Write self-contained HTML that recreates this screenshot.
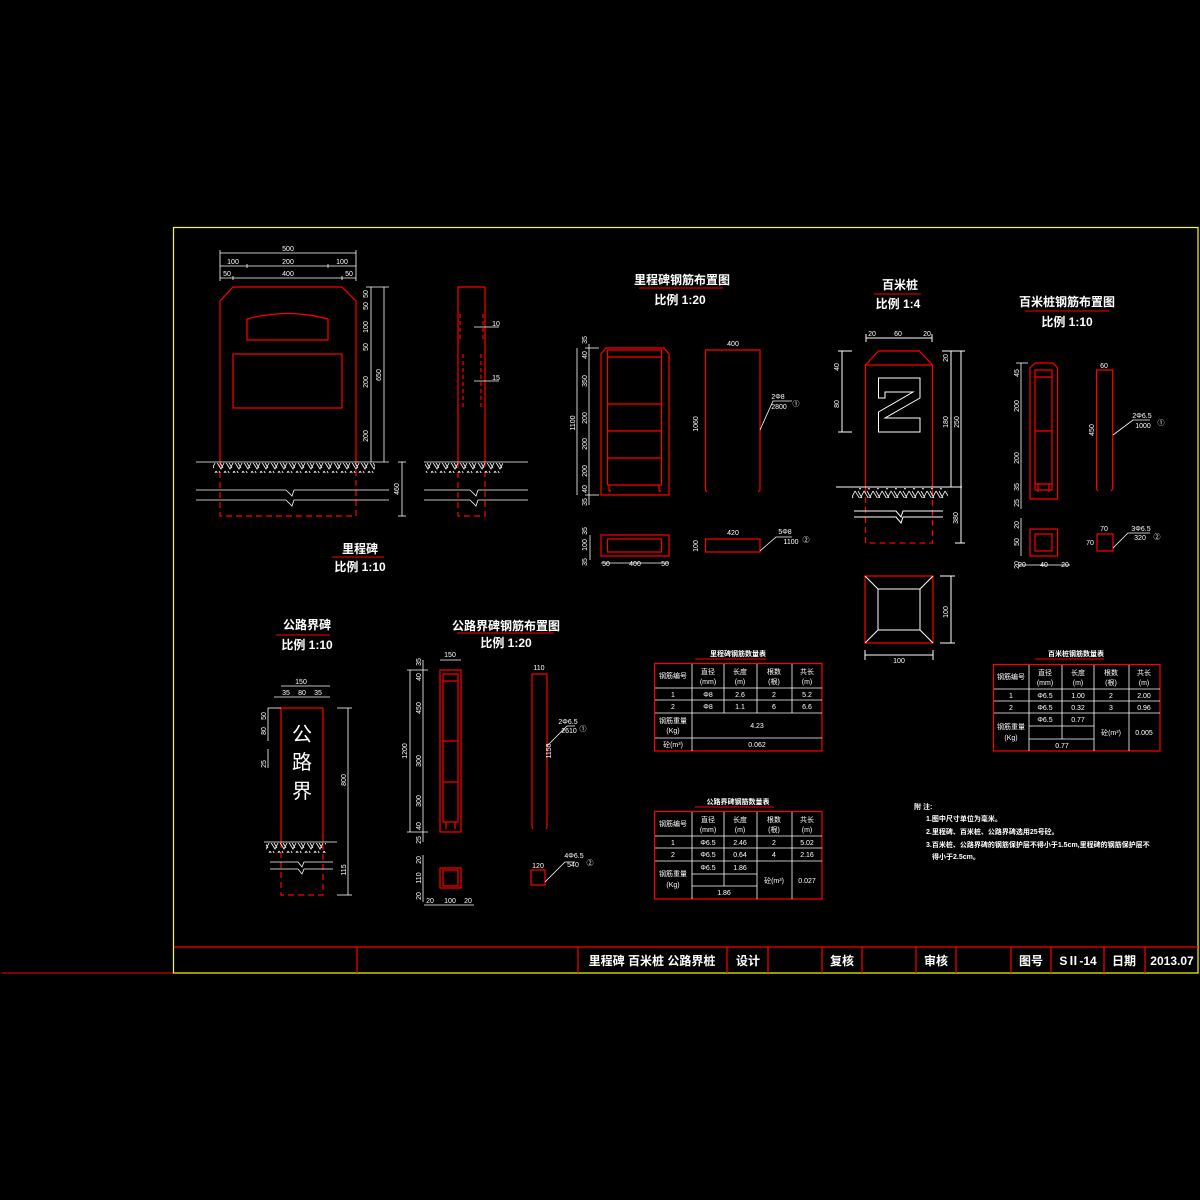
<!DOCTYPE html>
<html><head><meta charset="utf-8"><style>
html,body{margin:0;padding:0;background:#000;}
svg{display:block;}
text{font-family:"Liberation Sans","Noto Sans CJK SC",sans-serif;fill:#fff;}
.t{font-size:12px;font-weight:bold;}
.d{font-size:7px;}
.s{font-size:7px;text-anchor:middle;}
</style></head><body>
<svg width="1200" height="1200" viewBox="0 0 1200 1200" xmlns="http://www.w3.org/2000/svg">
<defs>
<pattern id="h" width="9" height="10" patternUnits="userSpaceOnUse">
<path d="M0 1 L5 9 L9 1 M3 1 L7 8" stroke="#fff" stroke-width="0.8" fill="none"/>
</pattern>
</defs>
<rect width="1200" height="1200" fill="#000"/>
<!-- frame -->
<line x1="2" y1="973" x2="173" y2="973" stroke="#f00" stroke-width="1"/>
<rect x="173.5" y="227.5" width="1024.5" height="745.5" fill="none" stroke="#ff0" stroke-width="1.2"/>
<line x1="174" y1="947" x2="1198" y2="947" stroke="#f00" stroke-width="1.2"/>
<g stroke="#f00" stroke-width="1.2">
<line x1="357" y1="947" x2="357" y2="973"/><line x1="578" y1="947" x2="578" y2="973"/>
<line x1="727" y1="947" x2="727" y2="973"/><line x1="768" y1="947" x2="768" y2="973"/>
<line x1="822" y1="947" x2="822" y2="973"/><line x1="862" y1="947" x2="862" y2="973"/>
<line x1="916" y1="947" x2="916" y2="973"/><line x1="956" y1="947" x2="956" y2="973"/>
<line x1="1011" y1="947" x2="1011" y2="973"/><line x1="1051" y1="947" x2="1051" y2="973"/>
<line x1="1104" y1="947" x2="1104" y2="973"/><line x1="1145" y1="947" x2="1145" y2="973"/>
</g>
<g class="t" font-size="12">
<text x="652" y="965" text-anchor="middle">里程碑 百米桩 公路界桩</text>
<text x="748" y="965" text-anchor="middle">设计</text>
<text x="842" y="965" text-anchor="middle">复核</text>
<text x="936" y="965" text-anchor="middle">审核</text>
<text x="1031" y="965" text-anchor="middle">图号</text>
<text x="1078" y="965" text-anchor="middle">SⅡ-14</text>
<text x="1124" y="965" text-anchor="middle">日期</text>
<text x="1172" y="965" text-anchor="middle">2013.07</text>
</g>

<!-- ===== 里程碑 ===== -->
<g stroke="#f00" stroke-width="1.2" fill="none">
<path d="M220 462 L220 301 L233 287 L342 287 L356 301 L356 462"/>
<path d="M220 462 L220 516 L356 516 L356 462" stroke-dasharray="6,4"/>
<path d="M247 340 L247 319 Q288 308 328 319 L328 340 Z"/>
<rect x="233" y="354" width="109" height="54"/>
<path d="M458 462 L458 287 L485 287 L485 462"/>
<path d="M458 462 L458 516 L485 516 L485 462" stroke-dasharray="6,4"/>
<path d="M460 314 L460 340 M483 314 L483 340 M463 354 L463 408 M481 354 L481 408" stroke-dasharray="4,3"/>
</g>
<g stroke="#fff" stroke-width="0.8" fill="none">
<line x1="220" y1="253" x2="356" y2="253"/><line x1="220" y1="266" x2="356" y2="266"/><line x1="220" y1="278" x2="356" y2="278"/>
<line x1="220" y1="250" x2="220" y2="281"/><line x1="356" y1="250" x2="356" y2="281"/>
<line x1="247" y1="264" x2="247" y2="268"/><line x1="328" y1="264" x2="328" y2="268"/><line x1="233" y1="276" x2="233" y2="280"/><line x1="342" y1="276" x2="342" y2="280"/>
<line x1="371" y1="287" x2="371" y2="462"/><line x1="384" y1="287" x2="384" y2="462"/>
<line x1="366" y1="287" x2="389" y2="287"/>
<line x1="196" y1="462" x2="389" y2="462"/>
<line x1="424" y1="462" x2="528" y2="462"/>
<path d="M196 490 L286 490 L292 496 L294 490 L389 490 M196 500 L286 500 L292 506 L294 500 L389 500"/>
<path d="M424 490 L470 490 L476 496 L478 490 L528 490 M424 500 L470 500 L476 506 L478 500 L528 500"/>
<line x1="402" y1="462" x2="402" y2="516"/><line x1="398" y1="462" x2="406" y2="462"/><line x1="398" y1="516" x2="406" y2="516"/>
<line x1="474" y1="327" x2="499" y2="327"/><line x1="474" y1="381" x2="499" y2="381"/>
</g>
<rect x="213" y="463" width="162" height="10" fill="url(#h)"/>
<rect x="425" y="463" width="78" height="10" fill="url(#h)"/>
<g class="s">
<text x="288" y="251">500</text><text x="233" y="264">100</text><text x="288" y="264">200</text><text x="342" y="264">100</text>
<text x="227" y="276">50</text><text x="288" y="276">400</text><text x="349" y="276">50</text>
<text x="496" y="326">10</text><text x="496" y="380">15</text>
</g>
<g class="s">
<text transform="translate(368,294) rotate(-90)">50</text><text transform="translate(368,306) rotate(-90)">50</text>
<text transform="translate(368,327) rotate(-90)">100</text><text transform="translate(368,347) rotate(-90)">50</text>
<text transform="translate(368,382) rotate(-90)">200</text><text transform="translate(368,436) rotate(-90)">200</text>
<text transform="translate(381,375) rotate(-90)">650</text><text transform="translate(399,489) rotate(-90)">460</text>
</g>
<text class="t" x="360" y="553" text-anchor="middle">里程碑</text>
<line x1="332" y1="557" x2="384" y2="557" stroke="#f00" stroke-width="1"/>
<text class="t" x="360" y="571" text-anchor="middle">比例 1:10</text>

<!-- ===== 里程碑钢筋布置图 ===== -->
<text class="t" x="682" y="284" text-anchor="middle">里程碑钢筋布置图</text>
<line x1="639" y1="288" x2="723" y2="288" stroke="#f00" stroke-width="1"/>
<text class="t" x="680" y="304" text-anchor="middle">比例 1:20</text>
<g stroke="#f00" stroke-width="1.2" fill="none">
<path d="M601 495 L601 354 L606 348 L664 348 L669 354 L669 495 Z"/>
<rect x="607.5" y="350" width="54" height="135"/>
<line x1="607.5" y1="357" x2="661.5" y2="357"/><line x1="607.5" y1="404" x2="661.5" y2="404"/>
<line x1="607.5" y1="431" x2="661.5" y2="431"/><line x1="607.5" y1="458" x2="661.5" y2="458"/>
<path d="M609 485 L609 491 L611 491 M659 485 L659 491 L661 491"/>
<path d="M707 492 L705.5 490 L705.5 350 L760 350 L760 490 L758 492"/>
<rect x="601" y="535" width="68" height="21"/>
<rect x="607.5" y="539" width="54" height="13"/>
<rect x="705.5" y="539" width="54.5" height="13"/>
</g>
<g stroke="#fff" stroke-width="0.8" fill="none">
<line x1="589" y1="344" x2="589" y2="505"/><line x1="577" y1="348" x2="577" y2="495"/>
<line x1="585" y1="348" x2="599" y2="348"/><line x1="585" y1="495" x2="599" y2="495"/>
<path d="M760 430 L773 401 L792 401"/>
<path d="M760 551 L776 537 L792 537"/>
<line x1="601" y1="563" x2="669" y2="563"/><line x1="590" y1="535" x2="590" y2="560"/>
</g>
<g class="s">
<text x="733" y="346">400</text><text x="733" y="535">420</text>
<text x="778" y="399">2Φ8</text><text x="779" y="409">2800</text><text x="796" y="406">①</text>
<text x="785" y="534">5Φ8</text><text x="791" y="544">1100</text><text x="806" y="542">②</text>
<text x="606" y="566">50</text><text x="635" y="566">400</text><text x="665" y="566">50</text>
<text transform="translate(698,424) rotate(-90)">1060</text><text transform="translate(698,546) rotate(-90)">100</text>
<text transform="translate(575,423) rotate(-90)">1100</text>
<text transform="translate(587,340) rotate(-90)">35</text><text transform="translate(587,355) rotate(-90)">40</text>
<text transform="translate(587,381) rotate(-90)">350</text><text transform="translate(587,418) rotate(-90)">200</text>
<text transform="translate(587,444) rotate(-90)">200</text><text transform="translate(587,471) rotate(-90)">200</text>
<text transform="translate(587,489) rotate(-90)">40</text><text transform="translate(587,502) rotate(-90)">35</text>
<text transform="translate(587,531) rotate(-90)">35</text><text transform="translate(587,545) rotate(-90)">100</text>
<text transform="translate(587,562) rotate(-90)">35</text>
</g>

<!-- ===== 百米桩 ===== -->
<text class="t" x="900" y="289" text-anchor="middle">百米桩</text>
<line x1="874" y1="294" x2="921" y2="294" stroke="#f00" stroke-width="1"/>
<text class="t" x="898" y="308" text-anchor="middle">比例 1:4</text>
<g stroke="#f00" stroke-width="1.2" fill="none">
<path d="M865.5 487 L865.5 365 L878.5 351 L919.4 351 L932.4 365 L932.4 487"/>
<line x1="865.5" y1="365" x2="932.4" y2="365"/>
<path d="M865.5 487 L865.5 543 L932.4 543 L932.4 487" stroke-dasharray="6,4"/>
<rect x="865" y="576" width="68" height="67"/>
</g>
<g stroke="#fff" stroke-width="1" fill="none">
<path d="M878.5 378 L920 378 L920 398 L885 418 L920 418 L920 432 L878.5 432 L878.5 412 L913 392 L885 392 L885 398 L878.5 398 Z"/>
<rect x="878" y="589" width="42" height="41"/>
<path d="M865 576 L878 589 M933 576 L920 589 M865 643 L878 630 M933 643 L920 630"/>
<line x1="836" y1="487" x2="962" y2="487"/>
<path d="M854 511 L896 511 L901 517 L903 511 L943 511 M854 517 L896 517 L901 523 L903 517 L943 517"/>
<line x1="866" y1="338" x2="932" y2="338"/><line x1="866" y1="334" x2="866" y2="342"/><line x1="932" y1="334" x2="932" y2="342"/>
<line x1="842" y1="351" x2="842" y2="432"/><line x1="838" y1="351" x2="852" y2="351"/><line x1="838" y1="432" x2="852" y2="432"/>
<line x1="951" y1="351" x2="951" y2="487"/><line x1="961" y1="351" x2="961" y2="543"/>
<line x1="942" y1="351" x2="965" y2="351"/><line x1="955" y1="543" x2="965" y2="543"/>
<line x1="865" y1="655" x2="933" y2="655"/><line x1="865" y1="650" x2="865" y2="660"/><line x1="933" y1="650" x2="933" y2="660"/>
<line x1="951" y1="576" x2="951" y2="643"/><line x1="940" y1="576" x2="955" y2="576"/><line x1="940" y1="643" x2="955" y2="643"/>
</g>
<rect x="852" y="488" width="96" height="10" fill="url(#h)"/>
<g class="s">
<text x="872" y="336">20</text><text x="898" y="336">60</text><text x="927" y="336">20</text>
<text x="899" y="663">100</text>
<text transform="translate(839,367) rotate(-90)">40</text><text transform="translate(839,404) rotate(-90)">80</text>
<text transform="translate(948,422) rotate(-90)">180</text><text transform="translate(959,422) rotate(-90)">250</text>
<text transform="translate(958,518) rotate(-90)">380</text><text transform="translate(948,612) rotate(-90)">100</text>
<text transform="translate(948,358) rotate(-90)">20</text>
</g>

<!-- ===== 百米桩钢筋布置图 ===== -->
<text class="t" x="1067" y="306" text-anchor="middle">百米桩钢筋布置图</text>
<line x1="1025" y1="311" x2="1109" y2="311" stroke="#f00" stroke-width="1"/>
<text class="t" x="1067" y="326" text-anchor="middle">比例 1:10</text>
<g stroke="#f00" stroke-width="1.2" fill="none">
<path d="M1030 499 L1030 368 L1035 363 L1053 363 L1057.6 368 L1057.6 499 Z"/>
<rect x="1035" y="370" width="17" height="120"/>
<line x1="1035" y1="377" x2="1052" y2="377"/><line x1="1035" y1="431" x2="1052" y2="431"/><line x1="1035" y1="484" x2="1052" y2="484"/>
<path d="M1038 484 L1038 492 M1049 484 L1049 492"/>
<path d="M1098 491 L1096.6 489 L1096.6 370 L1112.7 370 L1112.7 489 L1111 491"/>
<rect x="1030" y="529" width="27.6" height="27"/>
<rect x="1035" y="534" width="17" height="17"/>
<rect x="1097" y="534" width="16" height="17"/>
</g>
<g stroke="#fff" stroke-width="0.8" fill="none">
<line x1="1021" y1="363" x2="1021" y2="509"/><line x1="1016" y1="363" x2="1028" y2="363"/>
<path d="M1113 435 L1133 420 L1150 420"/>
<path d="M1113 548 L1128 533 L1150 533"/>
<line x1="1018" y1="565" x2="1070" y2="565"/><line x1="1021" y1="518" x2="1021" y2="556"/>
</g>
<g class="s">
<text x="1104" y="368">60</text><text x="1104" y="531">70</text><text x="1090" y="545">70</text>
<text x="1142" y="418">2Φ6.5</text><text x="1143" y="428">1000</text><text x="1161" y="425">①</text>
<text x="1141" y="531">3Φ6.5</text><text x="1140" y="540">320</text><text x="1157" y="539">②</text>
<text x="1022" y="567">20</text><text x="1044" y="567">40</text><text x="1065" y="567">20</text>
<text transform="translate(1094,430) rotate(-90)">450</text>
<text transform="translate(1019,373) rotate(-90)">45</text><text transform="translate(1019,406) rotate(-90)">200</text>
<text transform="translate(1019,458) rotate(-90)">200</text><text transform="translate(1019,487) rotate(-90)">35</text>
<text transform="translate(1019,503) rotate(-90)">25</text><text transform="translate(1019,525) rotate(-90)">20</text>
<text transform="translate(1019,542) rotate(-90)">50</text><text transform="translate(1019,565) rotate(-90)">20</text>
</g>

<!-- ===== 公路界碑 ===== -->
<text class="t" x="307" y="629" text-anchor="middle">公路界碑</text>
<line x1="276" y1="635" x2="330" y2="635" stroke="#f00" stroke-width="1"/>
<text class="t" x="307" y="649" text-anchor="middle">比例 1:10</text>
<g stroke="#f00" stroke-width="1.2" fill="none">
<path d="M281 842 L281 708 L323 708 L323 842"/>
<path d="M281 842 L281 895 L323 895 L323 842" stroke-dasharray="6,4"/>
</g>
<g font-size="20" fill="#fff" text-anchor="middle">
<text x="302" y="741">公</text><text x="302" y="769">路</text><text x="302" y="798">界</text>
</g>
<g stroke="#fff" stroke-width="0.8" fill="none">
<line x1="264" y1="842" x2="337" y2="842"/>
<path d="M270 862 L298 862 L302 867 L304 862 L333 862 M270 869 L298 869 L302 874 L304 869 L333 869"/>
<line x1="348" y1="708" x2="348" y2="895"/><line x1="337" y1="708" x2="352" y2="708"/><line x1="337" y1="895" x2="352" y2="895"/>
<line x1="274" y1="697" x2="330" y2="697"/><line x1="281" y1="686" x2="330" y2="686"/>
<line x1="268" y1="708" x2="281" y2="708"/><line x1="268" y1="749" x2="268" y2="768"/><line x1="268" y1="708" x2="268" y2="741"/>
</g>
<rect x="266" y="843" width="60" height="10" fill="url(#h)"/>
<g class="s">
<text x="301" y="684">150</text><text x="286" y="695">35</text><text x="302" y="695">80</text><text x="318" y="695">35</text>
<text transform="translate(266,716) rotate(-90)">50</text><text transform="translate(266,731) rotate(-90)">80</text>
<text transform="translate(266,764) rotate(-90)">25</text>
<text transform="translate(346,780) rotate(-90)">800</text><text transform="translate(346,870) rotate(-90)">115</text>
</g>

<!-- ===== 公路界碑钢筋布置图 ===== -->
<text class="t" x="506" y="630" text-anchor="middle">公路界碑钢筋布置图</text>
<line x1="457" y1="633" x2="554" y2="633" stroke="#f00" stroke-width="1"/>
<text class="t" x="506" y="647" text-anchor="middle">比例 1:20</text>
<g stroke="#f00" stroke-width="1.2" fill="none">
<rect x="440" y="670" width="21" height="162"/>
<rect x="443" y="674" width="15" height="148"/>
<line x1="443" y1="681" x2="458" y2="681"/><line x1="443" y1="741" x2="458" y2="741"/><line x1="443" y1="782" x2="458" y2="782"/>
<path d="M446 822 L446 829 M455 822 L455 829"/>
<path d="M533 829 L532 827 L532 674 L547 674 L547 827 L546 829"/>
<rect x="440" y="868" width="21" height="20"/>
<rect x="443" y="870" width="15" height="16"/>
<rect x="531" y="870" width="14" height="15"/>
</g>
<g stroke="#fff" stroke-width="0.8" fill="none">
<line x1="410" y1="670" x2="410" y2="832"/><line x1="423" y1="660" x2="423" y2="842"/>
<line x1="407" y1="670" x2="428" y2="670"/><line x1="407" y1="832" x2="428" y2="832"/>
<line x1="440" y1="660" x2="461" y2="660"/>
<path d="M547 746 L567 726 L575 726"/>
<path d="M545 882 L565 862 L575 862"/>
<line x1="424" y1="905" x2="474" y2="905"/><line x1="423" y1="855" x2="423" y2="902"/>
</g>
<g class="s">
<text x="450" y="657">150</text><text x="539" y="670">110</text><text x="538" y="868">120</text>
<text x="568" y="724">2Φ6.5</text><text x="569" y="733">2610</text><text x="583" y="731">①</text>
<text x="574" y="858">4Φ6.5</text><text x="573" y="867">540</text><text x="590" y="865">②</text>
<text x="430" y="903">20</text><text x="450" y="903">100</text><text x="468" y="903">20</text>
<text transform="translate(551,751) rotate(-90)">1150</text>
<text transform="translate(407,751) rotate(-90)">1200</text>
<text transform="translate(421,662) rotate(-90)">35</text><text transform="translate(421,677) rotate(-90)">40</text>
<text transform="translate(421,708) rotate(-90)">450</text><text transform="translate(421,761) rotate(-90)">300</text>
<text transform="translate(421,801) rotate(-90)">300</text><text transform="translate(421,826) rotate(-90)">40</text>
<text transform="translate(421,840) rotate(-90)">25</text><text transform="translate(421,860) rotate(-90)">20</text>
<text transform="translate(421,878) rotate(-90)">110</text><text transform="translate(421,896) rotate(-90)">20</text>
</g>

<!-- ===== Tables ===== -->
<g font-size="7" font-weight="bold" text-anchor="middle">
<text x="738" y="656">里程碑钢筋数量表</text>
</g>
<line x1="695" y1="659" x2="766" y2="659" stroke="#f00" stroke-width="1"/>
<rect x="654.5" y="663.5" width="167.5" height="87.5" fill="none" stroke="#f00" stroke-width="1.2"/>
<g stroke="#fff" stroke-width="0.8">
<line x1="655" y1="688" x2="822" y2="688"/><line x1="655" y1="700" x2="822" y2="700"/>
<line x1="655" y1="713" x2="822" y2="713"/><line x1="655" y1="738" x2="822" y2="738"/>
<line x1="692" y1="664" x2="692" y2="751"/><line x1="724" y1="664" x2="724" y2="713"/>
<line x1="757" y1="664" x2="757" y2="713"/><line x1="792" y1="664" x2="792" y2="713"/>
</g>
<g class="s">
<text x="673" y="678">钢筋编号</text><text x="708" y="674">直径</text><text x="708" y="684">(mm)</text>
<text x="740" y="674">长度</text><text x="740" y="684">(m)</text><text x="774" y="674">根数</text><text x="774" y="684">(根)</text>
<text x="807" y="674">共长</text><text x="807" y="684">(m)</text>
<text x="673" y="697">1</text><text x="708" y="697">Φ8</text><text x="740" y="697">2.6</text><text x="774" y="697">2</text><text x="807" y="697">5.2</text>
<text x="673" y="709">2</text><text x="708" y="709">Φ8</text><text x="740" y="709">1.1</text><text x="774" y="709">6</text><text x="807" y="709">6.6</text>
<text x="673" y="723">钢筋重量</text><text x="673" y="733">(Kg)</text><text x="757" y="728">4.23</text>
<text x="673" y="747">砼(m³)</text><text x="757" y="747">0.062</text>
</g>

<g font-size="7" font-weight="bold" text-anchor="middle"><text x="738" y="804">公路界碑钢筋数量表</text></g>
<line x1="695" y1="807" x2="774" y2="807" stroke="#f00" stroke-width="1"/>
<rect x="654.5" y="811.5" width="167.5" height="87.5" fill="none" stroke="#f00" stroke-width="1.2"/>
<g stroke="#fff" stroke-width="0.8">
<line x1="655" y1="836" x2="822" y2="836"/><line x1="655" y1="848" x2="822" y2="848"/>
<line x1="655" y1="861" x2="822" y2="861"/><line x1="692" y1="874" x2="757" y2="874"/><line x1="692" y1="886" x2="757" y2="886"/>
<line x1="692" y1="812" x2="692" y2="899"/><line x1="724" y1="812" x2="724" y2="886"/>
<line x1="757" y1="812" x2="757" y2="899"/><line x1="792" y1="812" x2="792" y2="899"/>
</g>
<g class="s">
<text x="673" y="826">钢筋编号</text><text x="708" y="822">直径</text><text x="708" y="832">(mm)</text>
<text x="740" y="822">长度</text><text x="740" y="832">(m)</text><text x="774" y="822">根数</text><text x="774" y="832">(根)</text>
<text x="807" y="822">共长</text><text x="807" y="832">(m)</text>
<text x="673" y="845">1</text><text x="708" y="845">Φ6.5</text><text x="740" y="845">2.46</text><text x="774" y="845">2</text><text x="807" y="845">5.02</text>
<text x="673" y="857">2</text><text x="708" y="857">Φ6.5</text><text x="740" y="857">0.64</text><text x="774" y="857">4</text><text x="807" y="857">2.16</text>
<text x="673" y="876">钢筋重量</text><text x="673" y="887">(Kg)</text>
<text x="708" y="870">Φ6.5</text><text x="740" y="870">1.86</text><text x="724" y="895">1.86</text>
<text x="774" y="883">砼(m³)</text><text x="807" y="883">0.027</text>
</g>

<g font-size="7" font-weight="bold" text-anchor="middle"><text x="1076" y="656">百米桩钢筋数量表</text></g>
<line x1="1035" y1="659" x2="1104" y2="659" stroke="#f00" stroke-width="1"/>
<rect x="993.5" y="664.5" width="166.5" height="86.5" fill="none" stroke="#f00" stroke-width="1.2"/>
<g stroke="#fff" stroke-width="0.8">
<line x1="994" y1="689" x2="1160" y2="689"/><line x1="994" y1="701" x2="1160" y2="701"/>
<line x1="994" y1="713" x2="1160" y2="713"/><line x1="1029" y1="726" x2="1094" y2="726"/><line x1="1029" y1="739" x2="1094" y2="739"/>
<line x1="1029" y1="665" x2="1029" y2="751"/><line x1="1062" y1="665" x2="1062" y2="739"/>
<line x1="1094" y1="665" x2="1094" y2="751"/><line x1="1129" y1="665" x2="1129" y2="751"/>
</g>
<g class="s">
<text x="1011" y="679">钢筋编号</text><text x="1045" y="675">直径</text><text x="1045" y="685">(mm)</text>
<text x="1078" y="675">长度</text><text x="1078" y="685">(m)</text><text x="1111" y="675">根数</text><text x="1111" y="685">(根)</text>
<text x="1144" y="675">共长</text><text x="1144" y="685">(m)</text>
<text x="1011" y="698">1</text><text x="1045" y="698">Φ6.5</text><text x="1078" y="698">1.00</text><text x="1111" y="698">2</text><text x="1144" y="698">2.00</text>
<text x="1011" y="710">2</text><text x="1045" y="710">Φ6.5</text><text x="1078" y="710">0.32</text><text x="1111" y="710">3</text><text x="1144" y="710">0.96</text>
<text x="1011" y="729">钢筋重量</text><text x="1011" y="740">(Kg)</text>
<text x="1045" y="722">Φ6.5</text><text x="1078" y="722">0.77</text><text x="1062" y="748">0.77</text>
<text x="1111" y="735">砼(m³)</text><text x="1144" y="735">0.005</text>
</g>

<!-- notes -->
<g font-size="7" font-weight="bold">
<text x="914" y="809">附  注:</text>
<text x="926" y="821">1.图中尺寸单位为毫米。</text>
<text x="926" y="834">2.里程碑、百米桩、公路界碑选用25号砼。</text>
<text x="926" y="847">3.百米桩、公路界碑的钢筋保护层不得小于1.5cm,里程碑的钢筋保护层不</text>
<text x="932" y="859">得小于2.5cm。</text>
</g>
</svg>
</body></html>
